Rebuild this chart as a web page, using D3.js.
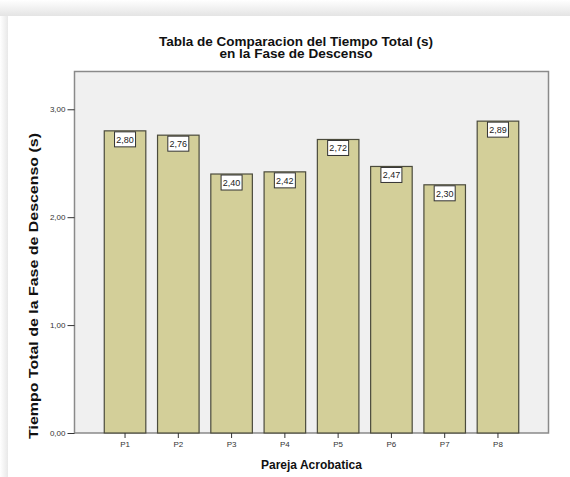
<!DOCTYPE html>
<html>
<head>
<meta charset="utf-8">
<script src="https://cdn.jsdelivr.net/npm/d3@7"></script>
<style>
  html, body { margin: 0; padding: 0; background: #fff; }
  svg { display: block; font-family: "Liberation Sans", Arial, sans-serif; }
</style>
</head>
<body>
<svg id="chart" width="570" height="477"></svg>
<script>
// Data
const categories = ["P1", "P2", "P3", "P4", "P5", "P6", "P7", "P8"];
const values = [2.80, 2.76, 2.40, 2.42, 2.72, 2.47, 2.30, 2.89];
const yTicks = [0, 1, 2, 3];
const titleLines = ["Tabla de Comparacion del Tiempo Total (s)", "en la Fase de Descenso"];
const xTitle = "Pareja Acrobatica";
const yTitle = "Tiempo Total de la Fase de Descenso (s)";

const svg = d3.select("#chart");
const W = 570, H = 477;

// Decimal comma formatting
const locale = d3.formatLocale({ decimal: ",", thousands: ".", grouping: [3], currency: ["", " €"] });
const fmt = locale.format(".2f");

// Card with soft shadow along the top and left edge
const defs = svg.append("defs");
const grad = defs.append("linearGradient").attr("id", "topShade")
  .attr("x1", 0).attr("y1", 0).attr("x2", 0).attr("y2", 1);
grad.append("stop").attr("offset", "0%").attr("stop-color", "#ffffff");
grad.append("stop").attr("offset", "100%").attr("stop-color", "#e4e4e4");
const gradL = defs.append("linearGradient").attr("id", "leftShade")
  .attr("x1", 0).attr("y1", 0).attr("x2", 1).attr("y2", 0);
gradL.append("stop").attr("offset", "0%").attr("stop-color", "#ffffff");
gradL.append("stop").attr("offset", "100%").attr("stop-color", "#e8e8e8");

svg.append("rect").attr("x", 0).attr("y", 0).attr("width", W).attr("height", 16).attr("fill", "url(#topShade)");
svg.append("rect").attr("x", 0).attr("y", 16).attr("width", 8).attr("height", H - 16).attr("fill", "url(#leftShade)");
svg.append("rect").attr("x", 8).attr("y", 16).attr("width", W - 8).attr("height", H - 16).attr("fill", "#ffffff");

// Plot frame
const plot = { left: 74.5, top: 71.5, right: 548.5, bottom: 433 };

const x = d3.scaleBand()
  .domain(categories)
  .range([98.4, 524.6])
  .paddingInner(0.22)
  .paddingOuter(0.11);

const y = d3.scaleLinear()
  .domain([0, 3.35])
  .range([plot.bottom, plot.top]);

svg.append("rect")
  .attr("x", plot.left).attr("y", plot.top)
  .attr("width", plot.right - plot.left).attr("height", plot.bottom - plot.top)
  .attr("fill", "#f0f0f0").attr("stroke", "#8a8a8a").attr("stroke-width", 1.5);

// Bars
const data = categories.map((c, i) => ({ cat: c, v: values[i] }));
svg.append("g").selectAll("rect").data(data).join("rect")
  .attr("x", d => x(d.cat))
  .attr("y", d => y(d.v))
  .attr("width", x.bandwidth())
  .attr("height", d => plot.bottom - y(d.v))
  .attr("fill", "#d3cf99")
  .attr("stroke", "#4b4b3c")
  .attr("stroke-width", 1.2);

// Value labels
const lab = svg.append("g").selectAll("g").data(data).join("g")
  .attr("transform", d => `translate(${x(d.cat) + x.bandwidth() / 2},${y(d.v) + 1})`);
lab.append("rect")
  .attr("x", -10.5).attr("y", 0).attr("width", 21).attr("height", 15)
  .attr("fill", "#ffffff").attr("stroke", "#333").attr("stroke-width", 1);
lab.append("text")
  .attr("x", 0).attr("y", 11)
  .attr("text-anchor", "middle")
  .attr("font-size", 9).attr("fill", "#222")
  .text(d => fmt(d.v));

// Y axis
const yAxis = d3.axisLeft(y).tickValues(yTicks).tickSize(7).tickPadding(2).tickFormat(fmt);
const gy = svg.append("g").attr("transform", `translate(${plot.left},0)`).call(yAxis);
gy.select(".domain").remove();
gy.selectAll(".tick line").attr("stroke", "#333");
gy.selectAll(".tick text").attr("font-size", 8).attr("fill", "#333").attr("font-family", "Liberation Sans, Arial, sans-serif");

// X axis
const xAxis = d3.axisBottom(x).tickSize(5).tickPadding(3);
const gx = svg.append("g").attr("transform", `translate(0,${plot.bottom})`).call(xAxis);
gx.select(".domain").remove();
gx.selectAll(".tick line").attr("stroke", "#333");
gx.selectAll(".tick text").attr("font-size", 8).attr("fill", "#333").attr("font-family", "Liberation Sans, Arial, sans-serif");

// Titles (two lines, slightly widened)
const titleWidths = [274, 153];
svg.append("g").selectAll("text").data(titleLines).join("text")
  .attr("x", 296)
  .attr("y", (d, i) => 45.5 + i * 12.5)
  .attr("text-anchor", "middle")
  .attr("font-size", 12).attr("font-weight", "bold").attr("fill", "#111")
  .attr("textLength", (d, i) => titleWidths[i]).attr("lengthAdjust", "spacingAndGlyphs")
  .text(d => d);

svg.append("text")
  .attr("x", (plot.left + plot.right) / 2).attr("y", 469)
  .attr("text-anchor", "middle")
  .attr("font-size", 12).attr("font-weight", "bold").attr("fill", "#111")
  .text(xTitle);

svg.append("text")
  .attr("transform", "translate(38,286) rotate(-90)")
  .attr("text-anchor", "middle")
  .attr("font-size", 12).attr("font-weight", "bold").attr("fill", "#111")
  .attr("textLength", 306).attr("lengthAdjust", "spacingAndGlyphs")
  .text(yTitle);
</script>
</body>
</html>
